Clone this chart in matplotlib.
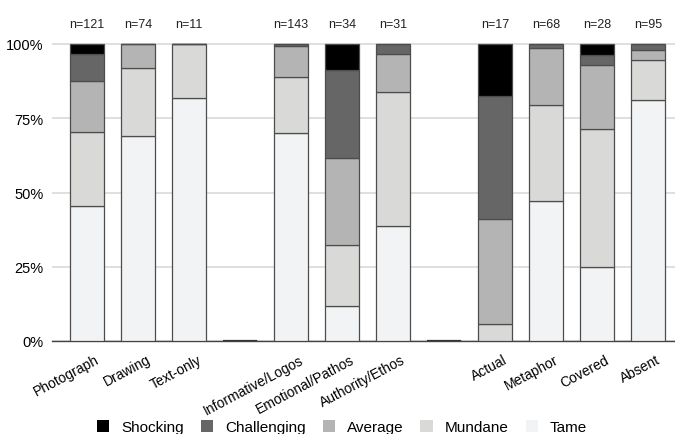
import numpy as np
import matplotlib
matplotlib.use("Agg")
import matplotlib.pyplot as plt
import matplotlib.transforms as mtransforms
from matplotlib.patches import Patch

plt.rcParams.update({
    "font.family": ["Liberation Sans", "DejaVu Sans"],
    "font.size": 10,
})

# categories ("" = spacer slot between groups)
categories = ["Photograph", "Drawing", "Text-only", "",
              "Informative/Logos", "Emotional/Pathos", "Authority/Ethos", "",
              "Actual", "Metaphor", "Covered", "Absent"]

# counts per rating level
tame        = [55, 51, 9, 0, 100, 4, 12, 0, 0, 32, 7, 77]
mundane     = [30, 17, 2, 0, 27, 7, 14, 0, 1, 22, 13, 13]
average     = [21, 6, 0, 0, 15, 10, 4, 0, 6, 13, 6, 3]
challenging = [11, 0, 0, 0, 1, 10, 1, 0, 7, 1, 1, 2]
shocking    = [4, 0, 0, 0, 0, 3, 0, 0, 3, 0, 1, 0]

levels = ["Tame", "Mundane", "Average", "Challenging", "Shocking"]
colors = {
    "Tame": "#f2f3f4",
    "Mundane": "#d9d9d8",
    "Average": "#b3b4b3",
    "Challenging": "#666666",
    "Shocking": "#000000",
}

counts = np.array([tame, mundane, average, challenging, shocking], dtype=float)
totals = counts.sum(axis=0)
shares = np.divide(counts, totals, out=np.zeros_like(counts), where=totals > 0)

fig = plt.figure(figsize=(6.75, 4.35), dpi=100)
ax = fig.add_axes([52 / 675, 93 / 435, 1 - 52 / 675, 297 / 435 * 1.005])

x = np.arange(len(categories))
bottom = np.zeros(len(categories))
for lvl, share in zip(levels, shares):
    ax.bar(x, share, bottom=bottom, width=0.67, color=colors[lvl],
           edgecolor="#4d4d4d", linewidth=0.9, zorder=3)
    bottom += share

# spacer slots: flat dark marks on the baseline
spacer = [i for i, c in enumerate(categories) if c == ""]
ax.bar(spacer, [0] * len(spacer), width=0.67, color="#333333",
       edgecolor="#333333", linewidth=1.6, zorder=3)

for i, n in enumerate(totals):
    if n > 0:
        ax.text(i, 1.067, f"n={int(n)}", ha="center", va="center",
                fontsize=9, color="#222222", clip_on=False)

ax.set_xlim(-0.69, 11.53)
ax.set_ylim(0, 1.005)
ax.set_yticks([0, 0.25, 0.5, 0.75, 1.0])
ax.set_yticklabels(["0%", "25%", "50%", "75%", "100%"], fontsize=10.5)
ax.yaxis.grid(True, color="#d9d9d9", linewidth=1.2, zorder=0)
ax.set_axisbelow(True)
ax.tick_params(axis="y", length=0, pad=6)
ax.tick_params(axis="x", length=0, pad=8)

ax.set_xticks(x)
ax.set_xticklabels(categories, rotation=28, ha="right",
                   rotation_mode="anchor", fontsize=10)
shift = mtransforms.ScaledTranslation(8 / 100, 0, fig.dpi_scale_trans)
for lbl in ax.get_xticklabels():
    lbl.set_transform(lbl.get_transform() + shift)

for side in ["top", "right", "left"]:
    ax.spines[side].set_visible(False)
ax.spines["bottom"].set_color("#444444")
ax.spines["bottom"].set_linewidth(1.0)

handles = [Patch(facecolor=colors[l], edgecolor="none", label=l)
           for l in ["Shocking", "Challenging", "Average", "Mundane", "Tame"]]
fig.legend(handles=handles, loc="center", bbox_to_anchor=(342 / 675, 7 / 435),
           ncol=5, frameon=False, fontsize=11, handlelength=0.8,
           handleheight=0.8, handletextpad=0.8, columnspacing=1.1)

fig.savefig("out.png", dpi=100)
